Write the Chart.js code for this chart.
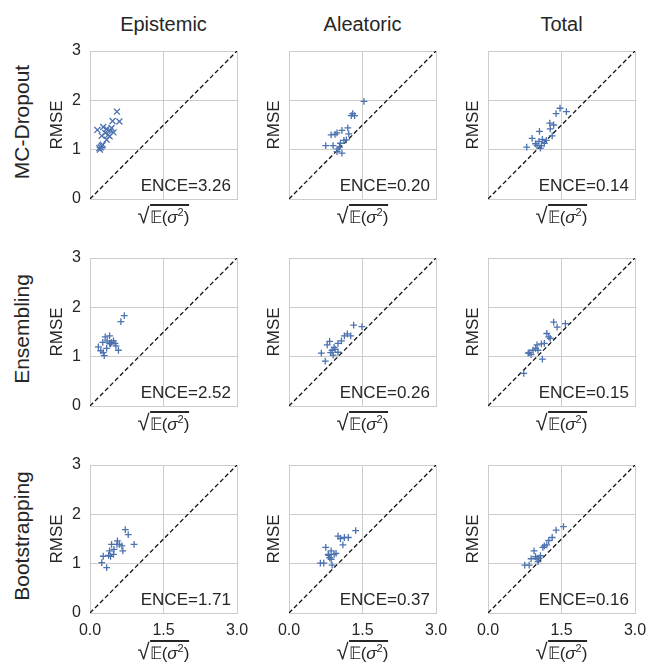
<!DOCTYPE html>
<html lang="en">
<head>
<meta charset="UTF-8">
<title>Calibration of uncertainty estimates (ENCE)</title>
<script src="https://cdn.jsdelivr.net/npm/chart.js@4.4.1/dist/chart.umd.min.js"></script>
<style>
  body { margin: 0; background: #fff; font-family: 'Liberation Sans', Arial, sans-serif; color: #262626; }
  #fig { position: relative; width: 648px; height: 668px; overflow: hidden; }
  #fig canvas { position: absolute; }
  .col-title, .row-title, .xlab { position: absolute; white-space: nowrap; line-height: 1; }
  .col-title { font-size: 20px; transform: translate(-50%, -50%); }
  .row-title { font-size: 21px; transform: translate(-50%, -50%) rotate(-90deg); }
  .xlab { font-size: 17px; transform: translate(-50%, -50%); }
  .xlab .rad { font-size: 22px; }
  .xlab .ol { border-top: 2px solid #262626; padding-top: 2px; }
  .xlab sup { font-size: 11px; }
</style>
</head>
<body>
<div id="fig"></div>
<script>
const methods = ['MC-Dropout', 'Ensembling', 'Bootstrapping'];
const uncertainties = ['Epistemic', 'Aleatoric', 'Total'];
const xTicks = [0, 1.5, 3];
const yTicks = [0, 1, 2, 3];

// [sqrt(E[sigma^2]), RMSE] per bin
const mcDropoutEpistemic = [
  [0.55, 1.77], [0.60, 1.57], [0.46, 1.58], [0.15, 1.40], [0.27, 1.46],
  [0.34, 1.42], [0.41, 1.39], [0.48, 1.35], [0.31, 1.34], [0.24, 1.28],
  [0.40, 1.27], [0.34, 1.20], [0.24, 1.08], [0.19, 1.03], [0.20, 1.00],
  [0.26, 1.10], [0.37, 1.30], [0.44, 1.44], [0.22, 1.05],
];
const mcDropoutAleatoric = [
  [1.53, 1.98], [1.30, 1.73], [1.34, 1.69], [1.27, 1.69], [0.86, 1.30],
  [0.94, 1.31], [0.98, 1.34], [1.08, 1.39], [1.20, 1.44], [1.22, 1.32],
  [0.75, 1.08], [0.90, 1.08], [1.05, 1.13], [1.12, 1.19], [1.17, 1.20],
  [1.03, 1.05], [0.98, 0.96], [1.08, 0.93], [1.00, 1.01],
];
const mcDropoutTotal = [
  [1.47, 1.84], [1.60, 1.77], [1.39, 1.73], [1.26, 1.54], [1.34, 1.50],
  [1.27, 1.42], [1.05, 1.37], [0.90, 1.23], [1.11, 1.21], [1.19, 1.19],
  [1.31, 1.28], [0.97, 1.12], [1.00, 1.08], [0.79, 1.05], [1.07, 1.03],
  [1.15, 1.13], [1.04, 1.17], [1.09, 1.08],
];
const ensemblingEpistemic = [
  [0.70, 1.83], [0.63, 1.71], [0.31, 1.40], [0.40, 1.42], [0.17, 1.20],
  [0.26, 1.29], [0.35, 1.32], [0.40, 1.27], [0.44, 1.29], [0.51, 1.27],
  [0.48, 1.32], [0.34, 1.17], [0.22, 1.12], [0.27, 1.08], [0.29, 1.02],
  [0.58, 1.13], [0.53, 1.22], [0.42, 1.26],
];
const ensemblingAleatoric = [
  [1.32, 1.64], [1.49, 1.61], [1.19, 1.46], [1.26, 1.42], [1.13, 1.42],
  [1.07, 1.32], [1.00, 1.27], [0.83, 1.31], [0.78, 1.24], [0.92, 1.19],
  [0.88, 1.13], [0.85, 1.08], [0.66, 1.07], [1.00, 1.09], [0.94, 1.15],
  [0.90, 1.03], [0.74, 0.91],
];
const ensemblingTotal = [
  [1.34, 1.70], [1.58, 1.67], [1.41, 1.60], [1.20, 1.47], [1.24, 1.40],
  [1.27, 1.37], [1.15, 1.27], [1.09, 1.26], [1.00, 1.24], [0.97, 1.17],
  [0.92, 1.13], [0.84, 1.08], [0.88, 1.04], [0.82, 1.07], [1.02, 1.13],
  [1.11, 0.95], [0.73, 0.66],
];
const bootstrappingEpistemic = [
  [0.72, 1.69], [0.78, 1.59], [0.90, 1.39], [0.65, 1.36], [0.56, 1.46],
  [0.60, 1.39], [0.44, 1.39], [0.49, 1.29], [0.67, 1.26], [0.40, 1.26],
  [0.48, 1.19], [0.38, 1.17], [0.42, 1.15], [0.27, 1.15], [0.24, 1.02],
  [0.34, 0.92], [0.55, 1.39],
];
const bootstrappingAleatoric = [
  [1.36, 1.67], [1.00, 1.56], [1.05, 1.51], [1.13, 1.53], [1.21, 1.53],
  [1.10, 1.38], [0.75, 1.33], [0.86, 1.26], [0.96, 1.21], [0.92, 1.19],
  [0.80, 1.19], [0.83, 1.12], [0.81, 1.17], [0.64, 1.01], [0.71, 1.01],
  [0.88, 0.97], [0.86, 1.09],
];
const bootstrappingTotal = [
  [1.54, 1.75], [1.39, 1.68], [1.31, 1.53], [1.24, 1.47], [1.20, 1.38],
  [1.15, 1.36], [1.12, 1.33], [0.94, 1.26], [0.88, 1.10], [0.97, 1.14],
  [1.00, 1.10], [1.07, 1.16], [1.02, 1.04], [0.84, 0.97], [0.75, 0.97],
  [1.04, 1.11],
];

const enceMcDropout = [3.26, 0.20, 0.14];
const enceEnsembling = [2.52, 0.26, 0.15];
const enceBootstrapping = [1.71, 0.37, 0.16];

const panels = [
  [mcDropoutEpistemic, mcDropoutAleatoric, mcDropoutTotal],
  [ensemblingEpistemic, ensemblingAleatoric, ensemblingTotal],
  [bootstrappingEpistemic, bootstrappingAleatoric, bootstrappingTotal],
];
const ence = [enceMcDropout, enceEnsembling, enceBootstrapping];

// page layout (px)
const PLOT_LEFT = [90, 289, 488];
const PLOT_TOP = [51, 258, 465];
const PLOT_W = 147;
const PLOT_H = 148;
const AXIS_W = 60;
const AXIS_H = 50;
const PAD = 12;

const TEXT = '#262626';
const GRID = '#cccccc';
const BLUE = '#4c72b0';
const FONT = "'Liberation Sans', Arial, sans-serif";

Chart.defaults.font.family = FONT;
Chart.defaults.color = TEXT;

const enceLabel = {
  id: 'enceLabel',
  afterDatasetsDraw(chart, args, opts) {
    const { ctx, chartArea } = chart;
    ctx.save();
    ctx.font = `17px ${FONT}`;
    ctx.fillStyle = TEXT;
    ctx.textAlign = 'right';
    ctx.textBaseline = 'alphabetic';
    ctx.fillText(`ENCE=${opts.value.toFixed(2)}`, chartArea.right - 6, chartArea.bottom - 8);
    ctx.restore();
  },
};

const fig = document.getElementById('fig');

function addDiv(cls, html, x, y) {
  const el = document.createElement('div');
  el.className = cls;
  el.innerHTML = html;
  el.style.left = x + 'px';
  el.style.top = y + 'px';
  fig.appendChild(el);
}

function makePanel(r, c) {
  const canvas = document.createElement('canvas');
  canvas.width = AXIS_W + PLOT_W + PAD;
  canvas.height = PAD + PLOT_H + AXIS_H;
  canvas.style.left = (PLOT_LEFT[c] - AXIS_W) + 'px';
  canvas.style.top = (PLOT_TOP[r] - PAD) + 'px';
  fig.appendChild(canvas);

  const firstCol = c === 0;
  const lastRow = r === methods.length - 1;

  new Chart(canvas, {
    type: 'scatter',
    data: {
      datasets: [
        {
          data: panels[r][c].map(([x, y]) => ({ x, y })),
          pointStyle: r === 0 && c === 0 ? 'crossRot' : 'cross',
          pointRadius: r === 0 && c === 0 ? 4.2 : 3.4,
          pointBorderWidth: 1.3,
          borderColor: BLUE,
          backgroundColor: BLUE,
          order: 1,
        },
        {
          data: [{ x: 0, y: 0 }, { x: 3, y: 3 }],
          showLine: true,
          pointRadius: 0,
          borderColor: '#111',
          borderWidth: 1.3,
          borderDash: [4.5, 2.6],
          order: 2,
        },
      ],
    },
    options: {
      responsive: false,
      animation: false,
      events: [],
      layout: { padding: { top: PAD, right: PAD, left: 0, bottom: 0 } },
      plugins: {
        legend: { display: false },
        tooltip: { enabled: false },
        enceLabel: { value: ence[r][c] },
      },
      scales: {
        x: {
          type: 'linear',
          min: 0,
          max: 3,
          afterBuildTicks: (s) => { s.ticks = xTicks.map((v) => ({ value: v })); },
          afterFit: (s) => { s.height = AXIS_H; s.paddingLeft = 0; s.paddingRight = 0; },
          ticks: { display: lastRow, padding: 8, maxRotation: 0, font: { size: 16 }, color: TEXT, callback: (v) => v.toFixed(1) },
          grid: { color: GRID, lineWidth: 1, drawTicks: false },
          border: { color: GRID, width: 1 },
        },
        y: {
          type: 'linear',
          min: 0,
          max: 3,
          afterBuildTicks: (s) => { s.ticks = yTicks.map((v) => ({ value: v })); },
          afterFit: (s) => { s.width = AXIS_W; s.paddingTop = 0; s.paddingBottom = 0; },
          ticks: { display: firstCol, padding: 9, font: { size: 16 }, color: TEXT },
          grid: { color: GRID, lineWidth: 1, drawTicks: false },
          border: { color: GRID, width: 1 },
          title: {
            display: true,
            text: 'RMSE',
            color: TEXT,
            font: { size: 17 },
            padding: { top: firstCol ? 17 : 35, bottom: 0 },
          },
        },
      },
    },
    plugins: [enceLabel],
  });

  const xlabY = PLOT_TOP[r] + PLOT_H + (lastRow ? 39 : 17);
  addDiv('xlab', '<span class="rad">√</span><span class="ol">𝔼(<i>σ</i><sup>2</sup>)</span>',
    PLOT_LEFT[c] + PLOT_W / 2, xlabY);
}

uncertainties.forEach((name, c) => addDiv('col-title', name, PLOT_LEFT[c] + PLOT_W / 2, 24));
methods.forEach((name, r) => addDiv('row-title', name, 21, PLOT_TOP[r] + PLOT_H / 2 - 3));

for (let r = 0; r < methods.length; r++) {
  for (let c = 0; c < uncertainties.length; c++) makePanel(r, c);
}
</script>
</body>
</html>
